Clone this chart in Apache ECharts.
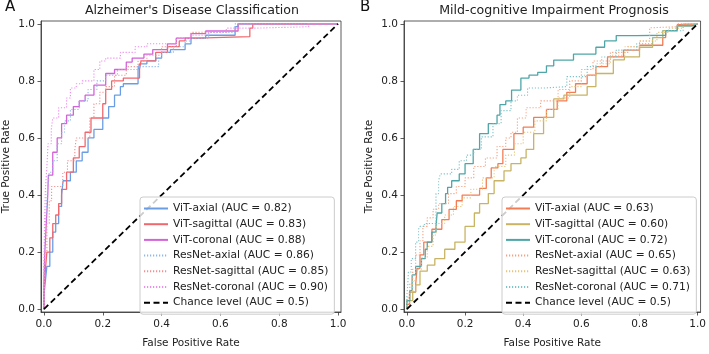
<!DOCTYPE html>
<html><head><meta charset="utf-8">
<script src="https://cdn.jsdelivr.net/npm/echarts@6/dist/echarts.min.js"></script>
<style>html,body{margin:0;padding:0;background:#fff}#c{width:709px;height:354px}</style>
</head><body><div id="c"></div><script>
// ---- Tick labels ----
const tickValues = [0, 0.2, 0.4, 0.6, 0.8, 1.0];

// ---- Panel A: Alzheimer's Disease Classification ([FPR, TPR]) ----
const adVitAxial = [[0,0],[0.005,0.05],[0.01,0.1],[0.02,0.15],[0.03,0.2],[0.04,0.27],[0.05,0.3],[0.06,0.36],[0.065,0.4],[0.09,0.45],[0.11,0.48],[0.13,0.52],[0.15,0.55],[0.17,0.6],[0.2,0.63],[0.22,0.67],[0.24,0.71],[0.26,0.75],[0.27,0.78],[0.32,0.79],[0.325,0.84],[0.35,0.86],[0.38,0.87],[0.4,0.88],[0.43,0.9],[0.48,0.91],[0.5,0.93],[0.55,0.95],[0.65,0.96],[0.66,0.99],[0.7,1.0],[1,1]];
const adVitSagittal = [[0,0],[0.005,0.07],[0.01,0.14],[0.02,0.2],[0.03,0.25],[0.04,0.3],[0.05,0.33],[0.06,0.37],[0.077,0.42],[0.1,0.48],[0.12,0.53],[0.14,0.57],[0.16,0.62],[0.2,0.67],[0.21,0.72],[0.23,0.77],[0.27,0.8],[0.325,0.81],[0.33,0.84],[0.38,0.87],[0.42,0.9],[0.46,0.92],[0.48,0.94],[0.52,0.95],[0.70,0.955],[0.71,0.985],[0.74,1.0],[1,1]];
const adVitCoronal = [[0,0],[0.003,0.1],[0.008,0.2],[0.013,0.3],[0.015,0.4],[0.03,0.47],[0.045,0.55],[0.06,0.6],[0.077,0.65],[0.1,0.68],[0.12,0.71],[0.14,0.73],[0.17,0.75],[0.21,0.785],[0.24,0.826],[0.28,0.84],[0.3,0.866],[0.34,0.88],[0.37,0.894],[0.42,0.91],[0.45,0.93],[0.5,0.95],[0.55,0.966],[0.66,0.975],[0.7,1.0],[1,1]];
const adResAxial = [[0,0],[0.003,0.12],[0.008,0.25],[0.012,0.35],[0.018,0.42],[0.03,0.48],[0.045,0.52],[0.06,0.58],[0.07,0.62],[0.09,0.66],[0.12,0.7],[0.15,0.73],[0.18,0.77],[0.21,0.8],[0.25,0.82],[0.32,0.84],[0.39,0.85],[0.4,0.88],[0.44,0.9],[0.48,0.92],[0.5,0.94],[0.56,0.95],[0.65,0.97],[0.69,1.0],[1,1]];
const adResSagittal = [[0,0],[0.003,0.1],[0.01,0.2],[0.018,0.3],[0.026,0.38],[0.03,0.43],[0.064,0.43],[0.08,0.48],[0.105,0.52],[0.11,0.56],[0.156,0.6],[0.17,0.67],[0.19,0.72],[0.21,0.76],[0.24,0.78],[0.28,0.82],[0.32,0.85],[0.35,0.87],[0.4,0.89],[0.45,0.92],[0.5,0.95],[0.52,0.97],[0.66,0.975],[0.7,1.0],[1,1]];
const adResCoronal = [[0,0],[0.002,0.15],[0.005,0.3],[0.01,0.42],[0.014,0.5],[0.025,0.58],[0.03,0.63],[0.05,0.67],[0.077,0.706],[0.09,0.74],[0.11,0.775],[0.13,0.79],[0.17,0.8],[0.19,0.84],[0.21,0.87],[0.26,0.88],[0.31,0.9],[0.35,0.92],[0.45,0.93],[0.5,0.95],[0.56,0.96],[0.62,0.97],[0.72,0.985],[0.9,0.99],[0.91,1.0],[1,1]];

// ---- Panel B: Mild-cognitive Impairment Prognosis ([FPR, TPR]) ----
const mciVitAxial = [[0,0],[0.009,0.017],[0.03,0.06],[0.035,0.085],[0.045,0.143],[0.058,0.19],[0.086,0.235],[0.12,0.28],[0.145,0.314],[0.17,0.35],[0.19,0.38],[0.215,0.4],[0.25,0.4],[0.273,0.423],[0.29,0.46],[0.313,0.495],[0.33,0.51],[0.368,0.56],[0.40,0.615],[0.436,0.638],[0.48,0.672],[0.517,0.7],[0.55,0.73],[0.58,0.76],[0.62,0.79],[0.65,0.82],[0.69,0.85],[0.745,0.884],[0.8,0.908],[0.88,0.925],[0.89,0.952],[0.93,0.976],[0.97,0.997],[1,1]];
const mciVitSagittal = [[0,0],[0.02,0.03],[0.03,0.06],[0.045,0.085],[0.07,0.133],[0.096,0.154],[0.13,0.177],[0.165,0.21],[0.2,0.235],[0.232,0.29],[0.25,0.337],[0.28,0.37],[0.3,0.405],[0.334,0.45],[0.358,0.485],[0.392,0.51],[0.41,0.53],[0.436,0.56],[0.47,0.615],[0.505,0.672],[0.54,0.737],[0.62,0.75],[0.65,0.78],[0.71,0.826],[0.748,0.874],[0.8,0.884],[0.845,0.918],[0.88,0.952],[0.93,0.976],[0.98,0.993],[1,1]];
const mciVitCoronal = [[0,0],[0.01,0.03],[0.018,0.065],[0.03,0.12],[0.05,0.15],[0.063,0.177],[0.07,0.21],[0.086,0.235],[0.1,0.27],[0.104,0.29],[0.12,0.337],[0.133,0.37],[0.14,0.405],[0.154,0.427],[0.18,0.45],[0.2,0.474],[0.228,0.51],[0.25,0.56],[0.28,0.615],[0.31,0.65],[0.32,0.68],[0.34,0.717],[0.36,0.73],[0.392,0.768],[0.42,0.81],[0.45,0.82],[0.48,0.83],[0.505,0.853],[0.573,0.873],[0.65,0.894],[0.68,0.918],[0.72,0.94],[0.79,0.959],[0.89,0.96],[0.93,0.976],[0.98,0.993],[1,1]];
const mciResAxial = [[0,0],[0.01,0.04],[0.02,0.09],[0.03,0.14],[0.045,0.19],[0.055,0.24],[0.07,0.29],[0.09,0.32],[0.109,0.35],[0.143,0.37],[0.17,0.405],[0.2,0.43],[0.23,0.46],[0.27,0.5],[0.31,0.53],[0.34,0.57],[0.358,0.6],[0.38,0.62],[0.41,0.67],[0.46,0.706],[0.52,0.73],[0.56,0.77],[0.6,0.8],[0.64,0.84],[0.7,0.87],[0.76,0.9],[0.8,0.92],[0.835,0.94],[0.84,0.986],[0.93,0.99],[0.94,1.0],[1,1]];
const mciResSagittal = [[0,0],[0.01,0.02],[0.02,0.06],[0.03,0.1],[0.05,0.14],[0.07,0.18],[0.09,0.22],[0.1,0.26],[0.13,0.3],[0.16,0.33],[0.19,0.36],[0.22,0.39],[0.26,0.42],[0.3,0.46],[0.34,0.5],[0.37,0.54],[0.4,0.58],[0.44,0.62],[0.48,0.66],[0.52,0.7],[0.56,0.74],[0.6,0.78],[0.65,0.82],[0.7,0.86],[0.75,0.89],[0.8,0.92],[0.86,0.94],[0.9,0.97],[0.95,0.985],[1,1]];
const mciResCoronal = [[0,0],[0.003,0.05],[0.005,0.085],[0.015,0.13],[0.03,0.177],[0.04,0.235],[0.045,0.28],[0.06,0.29],[0.1,0.3],[0.1,0.35],[0.109,0.405],[0.115,0.45],[0.154,0.474],[0.18,0.49],[0.205,0.52],[0.23,0.54],[0.256,0.56],[0.296,0.604],[0.324,0.65],[0.358,0.696],[0.38,0.73],[0.415,0.75],[0.47,0.775],[0.55,0.78],[0.62,0.815],[0.67,0.85],[0.72,0.884],[0.79,0.908],[0.845,0.93],[0.88,0.952],[0.95,0.976],[1,1]];

const chanceLine = [[0,0],[1,1]];

const namesA = ['ViT-axial (AUC = 0.82)','ViT-sagittal (AUC = 0.83)','ViT-coronal (AUC = 0.88)','ResNet-axial (AUC = 0.86)','ResNet-sagittal (AUC = 0.85)','ResNet-coronal (AUC = 0.90)','Chance level (AUC = 0.5)'];
const namesB = ['ViT-axial (AUC = 0.63)','ViT-sagittal (AUC = 0.60)','ViT-coronal (AUC = 0.72)','ResNet-axial (AUC = 0.65)','ResNet-sagittal (AUC = 0.63)','ResNet-coronal (AUC = 0.71)','Chance level (AUC = 0.5)'];

const FONT = 'DejaVu Sans';
const chart = echarts.init(document.getElementById('c'), null, {renderer:'canvas'});

function roc(name, data, color, dotted, gi){
  return {type:'line', name:name, data:data, xAxisIndex:gi, yAxisIndex:gi, step:'start',
    symbol:'none', showSymbol:false, animation:false, silent:true, z:2,
    itemStyle:{color:color},
    lineStyle:{color:color, width: dotted?1.1:1.3, type: dotted?[1.2,1.8]:'solid'}};
}
function chance(name, gi){
  return {type:'line', name:name, data:chanceLine, xAxisIndex:gi, yAxisIndex:gi,
    symbol:'none', showSymbol:false, animation:false, silent:true, z:3,
    itemStyle:{color:'#000'}, lineStyle:{color:'#000', width:1.8, type:[6,3.5]}};
}
function xAx(gi){
  return {type:'value', gridIndex:gi, min:-0.01, max:1.01,
    name:'False Positive Rate', nameLocation:'middle', nameGap:26,
    nameTextStyle:{fontFamily:FONT, fontSize:10.5, color:'#222'},
    axisLine:{show:true, onZero:false, lineStyle:{color:'#333', width:0.8}},
    axisTick:{show:true, customValues:tickValues, length:3.5, lineStyle:{color:'#333', width:0.8}},
    axisLabel:{customValues:tickValues, formatter:v=>v.toFixed(1), margin:7, fontFamily:FONT, fontSize:10.5, color:'#222'},
    splitLine:{show:false}};
}
function yAx(gi){
  return {type:'value', gridIndex:gi, min:-0.01, max:1.01,
    name:'True Positive Rate', nameLocation:'middle', nameGap:29,
    nameTextStyle:{fontFamily:FONT, fontSize:10.5, color:'#222'},
    axisLine:{show:true, onZero:false, lineStyle:{color:'#333', width:0.8}},
    axisTick:{show:true, customValues:tickValues, length:3.5, lineStyle:{color:'#333', width:0.8}},
    axisLabel:{customValues:tickValues, formatter:v=>v.toFixed(1), margin:6, fontFamily:FONT, fontSize:10.5, color:'#222'},
    splitLine:{show:false}};
}
function legend(names, left){
  return {data:names, orient:'vertical', left:left, top:197, itemWidth:24, itemHeight:12, itemGap:4.7,
    padding:[6,6,6,3], backgroundColor:'rgba(255,255,255,0.8)', borderColor:'#cccccc', borderWidth:1, borderRadius:3,
    itemStyle:{opacity:0},
    textStyle:{fontFamily:FONT, fontSize:10.7, color:'#222'}, selectedMode:false, z:10};
}

const colA = ['#6a9de6','#f0686e','#d462d8','#8db8ee','#f29090','#ee8cee'];
const colB = ['#f47c54','#c8b462','#4ea6a8','#f7a080','#e6c47a','#7cc4c8'];

chart.setOption({
  backgroundColor:'#fff',
  animation:false,
  grid:[
    {left:41, top:21, width:300, height:299, show:true, borderColor:'#333', borderWidth:0.8, containLabel:false},
    {left:404, top:21, width:300, height:299, show:true, borderColor:'#333', borderWidth:0.8, containLabel:false}
  ],
  xAxis:[xAx(0), xAx(1)],
  yAxis:[yAx(0), yAx(1)],
  legend:[legend(namesA, 140), legend(namesB, 502)],
  graphic:[
    {type:'text', left:5, top:0, style:{text:'A', fontFamily:FONT, fontSize:15, fill:'#111'}},
    {type:'text', left:360, top:0, style:{text:'B', fontFamily:FONT, fontSize:15, fill:'#111'}},
    {type:'text', x:192, y:11, style:{text:"Alzheimer's Disease Classification", fontFamily:FONT, fontSize:12.6, fill:'#222', align:'center', verticalAlign:'middle'}},
    {type:'text', x:554, y:11, style:{text:'Mild-cognitive Impairment Prognosis', fontFamily:FONT, fontSize:12.6, fill:'#222', align:'center', verticalAlign:'middle'}}
  ],
  series:[
    roc(namesA[0], adVitAxial, colA[0], false, 0),
    roc(namesA[1], adVitSagittal, colA[1], false, 0),
    roc(namesA[2], adVitCoronal, colA[2], false, 0),
    roc(namesA[3], adResAxial, colA[3], true, 0),
    roc(namesA[4], adResSagittal, colA[4], true, 0),
    roc(namesA[5], adResCoronal, colA[5], true, 0),
    chance(namesA[6], 0),
    roc(namesB[0], mciVitAxial, colB[0], false, 1),
    roc(namesB[1], mciVitSagittal, colB[1], false, 1),
    roc(namesB[2], mciVitCoronal, colB[2], false, 1),
    roc(namesB[3], mciResAxial, colB[3], true, 1),
    roc(namesB[4], mciResSagittal, colB[4], true, 1),
    roc(namesB[5], mciResCoronal, colB[5], true, 1),
    chance(namesB[6], 1)
  ]
});
</script></body></html>
